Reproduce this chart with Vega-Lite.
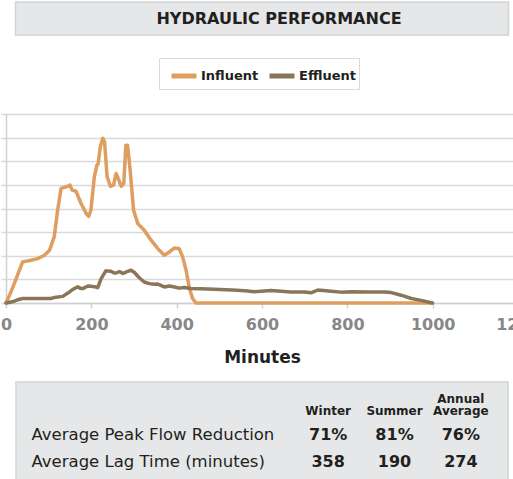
{
  "$schema": "https://vega.github.io/schema/vega-lite/v6.json",
  "padding": {"left": 0, "top": 1, "right": 0, "bottom": 0},
  "background": "white",
  "spacing": 79,
  "bounds": "flush",
  "center": true,
  "config": {
    "font": "DejaVu Sans",
    "view": {"stroke": null}
  },
  "vconcat": [
    {
      "width": 493,
      "height": 33,
      "view": {"fill": "#e6e7e8", "stroke": "#d2d3d5", "strokeWidth": 1.5},
      "data": {"values": [{"title": "HYDRAULIC PERFORMANCE"}]},
      "mark": {"type": "text", "font": "DejaVu Sans", "fontWeight": "bold", "fontSize": 16, "color": "#231f20", "dx": 17, "baseline": "middle", "align": "center"},
      "encoding": {"text": {"field": "title", "type": "nominal"}}
    },
    {
      "width": 512,
      "height": 189,
      "data": {"values": [
        {"series": "Influent", "minute": 0, "flow": 0},
        {"series": "Influent", "minute": 10, "flow": 0.4},
        {"series": "Influent", "minute": 20, "flow": 0.85},
        {"series": "Influent", "minute": 39, "flow": 1.74},
        {"series": "Influent", "minute": 59, "flow": 1.81},
        {"series": "Influent", "minute": 74, "flow": 1.88},
        {"series": "Influent", "minute": 90, "flow": 2.02},
        {"series": "Influent", "minute": 102, "flow": 2.23},
        {"series": "Influent", "minute": 113, "flow": 2.8},
        {"series": "Influent", "minute": 121, "flow": 3.93},
        {"series": "Influent", "minute": 129, "flow": 4.85},
        {"series": "Influent", "minute": 145, "flow": 4.94},
        {"series": "Influent", "minute": 150, "flow": 4.99},
        {"series": "Influent", "minute": 155, "flow": 4.78},
        {"series": "Influent", "minute": 164, "flow": 4.73},
        {"series": "Influent", "minute": 176, "flow": 4.21},
        {"series": "Influent", "minute": 188, "flow": 3.79},
        {"series": "Influent", "minute": 194, "flow": 3.67},
        {"series": "Influent", "minute": 199, "flow": 3.93},
        {"series": "Influent", "minute": 207, "flow": 5.34},
        {"series": "Influent", "minute": 213, "flow": 5.83},
        {"series": "Influent", "minute": 216, "flow": 5.9},
        {"series": "Influent", "minute": 221, "flow": 6.61},
        {"series": "Influent", "minute": 227, "flow": 6.97},
        {"series": "Influent", "minute": 231, "flow": 6.82},
        {"series": "Influent", "minute": 237, "flow": 5.34},
        {"series": "Influent", "minute": 245, "flow": 4.94},
        {"series": "Influent", "minute": 252, "flow": 4.99},
        {"series": "Influent", "minute": 258, "flow": 5.48},
        {"series": "Influent", "minute": 263, "flow": 5.27},
        {"series": "Influent", "minute": 270, "flow": 4.94},
        {"series": "Influent", "minute": 276, "flow": 5.06},
        {"series": "Influent", "minute": 281, "flow": 6.68},
        {"series": "Influent", "minute": 285, "flow": 6.68},
        {"series": "Influent", "minute": 291, "flow": 5.62},
        {"series": "Influent", "minute": 299, "flow": 3.93},
        {"series": "Influent", "minute": 309, "flow": 3.36},
        {"series": "Influent", "minute": 324, "flow": 3.08},
        {"series": "Influent", "minute": 340, "flow": 2.66},
        {"series": "Influent", "minute": 356, "flow": 2.3},
        {"series": "Influent", "minute": 371, "flow": 2.02},
        {"series": "Influent", "minute": 383, "flow": 2.16},
        {"series": "Influent", "minute": 395, "flow": 2.33},
        {"series": "Influent", "minute": 406, "flow": 2.3},
        {"series": "Influent", "minute": 414, "flow": 1.95},
        {"series": "Influent", "minute": 422, "flow": 1.39},
        {"series": "Influent", "minute": 430, "flow": 0.61},
        {"series": "Influent", "minute": 437, "flow": 0.2},
        {"series": "Influent", "minute": 445, "flow": 0},
        {"series": "Influent", "minute": 1000, "flow": 0},
        {"series": "Effluent", "minute": 0, "flow": 0},
        {"series": "Effluent", "minute": 15, "flow": 0.05},
        {"series": "Effluent", "minute": 30, "flow": 0.15},
        {"series": "Effluent", "minute": 39, "flow": 0.19},
        {"series": "Effluent", "minute": 105, "flow": 0.19},
        {"series": "Effluent", "minute": 113, "flow": 0.23},
        {"series": "Effluent", "minute": 133, "flow": 0.28},
        {"series": "Effluent", "minute": 145, "flow": 0.42},
        {"series": "Effluent", "minute": 156, "flow": 0.57},
        {"series": "Effluent", "minute": 168, "flow": 0.68},
        {"series": "Effluent", "minute": 176, "flow": 0.61},
        {"series": "Effluent", "minute": 180, "flow": 0.61},
        {"series": "Effluent", "minute": 192, "flow": 0.72},
        {"series": "Effluent", "minute": 199, "flow": 0.71},
        {"series": "Effluent", "minute": 211, "flow": 0.68},
        {"series": "Effluent", "minute": 215, "flow": 0.65},
        {"series": "Effluent", "minute": 223, "flow": 1.03},
        {"series": "Effluent", "minute": 234, "flow": 1.36},
        {"series": "Effluent", "minute": 246, "flow": 1.34},
        {"series": "Effluent", "minute": 254, "flow": 1.27},
        {"series": "Effluent", "minute": 258, "flow": 1.27},
        {"series": "Effluent", "minute": 266, "flow": 1.33},
        {"series": "Effluent", "minute": 274, "flow": 1.25},
        {"series": "Effluent", "minute": 281, "flow": 1.31},
        {"series": "Effluent", "minute": 293, "flow": 1.39},
        {"series": "Effluent", "minute": 301, "flow": 1.29},
        {"series": "Effluent", "minute": 313, "flow": 1.06},
        {"series": "Effluent", "minute": 324, "flow": 0.89},
        {"series": "Effluent", "minute": 336, "flow": 0.82},
        {"series": "Effluent", "minute": 348, "flow": 0.79},
        {"series": "Effluent", "minute": 356, "flow": 0.8},
        {"series": "Effluent", "minute": 371, "flow": 0.68},
        {"series": "Effluent", "minute": 383, "flow": 0.72},
        {"series": "Effluent", "minute": 395, "flow": 0.68},
        {"series": "Effluent", "minute": 406, "flow": 0.63},
        {"series": "Effluent", "minute": 418, "flow": 0.66},
        {"series": "Effluent", "minute": 433, "flow": 0.61},
        {"series": "Effluent", "minute": 457, "flow": 0.6},
        {"series": "Effluent", "minute": 488, "flow": 0.58},
        {"series": "Effluent", "minute": 530, "flow": 0.55},
        {"series": "Effluent", "minute": 560, "flow": 0.52},
        {"series": "Effluent", "minute": 582, "flow": 0.48},
        {"series": "Effluent", "minute": 598, "flow": 0.5},
        {"series": "Effluent", "minute": 621, "flow": 0.53},
        {"series": "Effluent", "minute": 668, "flow": 0.47},
        {"series": "Effluent", "minute": 700, "flow": 0.47},
        {"series": "Effluent", "minute": 715, "flow": 0.43},
        {"series": "Effluent", "minute": 731, "flow": 0.55},
        {"series": "Effluent", "minute": 762, "flow": 0.5},
        {"series": "Effluent", "minute": 785, "flow": 0.46},
        {"series": "Effluent", "minute": 809, "flow": 0.48},
        {"series": "Effluent", "minute": 850, "flow": 0.47},
        {"series": "Effluent", "minute": 887, "flow": 0.47},
        {"series": "Effluent", "minute": 903, "flow": 0.44},
        {"series": "Effluent", "minute": 926, "flow": 0.33},
        {"series": "Effluent", "minute": 950, "flow": 0.19},
        {"series": "Effluent", "minute": 973, "flow": 0.11},
        {"series": "Effluent", "minute": 999, "flow": 0}
      ]},
      "mark": {"type": "line", "strokeWidth": 3.5, "strokeJoin": "round", "strokeCap": "round"},
      "encoding": {
        "x": {
          "field": "minute", "type": "quantitative",
          "scale": {"domain": [0, 1200], "nice": false},
          "axis": {
            "values": [0, 200, 400, 600, 800, 1000, 1200],
            "format": "d",
            "grid": false,
            "title": "Minutes",
            "domainColor": "#d0d0d0", "domainWidth": 1.5,
            "tickColor": "#d0d0d0", "tickSize": 5, "tickWidth": 1.5,
            "labelFont": "DejaVu Sans", "labelFontWeight": "bold", "labelFontSize": 16,
            "labelColor": "#878787", "labelPadding": 8,
            "labelFlush": false, "labelOverlap": false,
            "titleFont": "DejaVu Sans", "titleFontSize": 17, "titleFontWeight": "bold",
            "titleColor": "#231f20", "titlePadding": 17
          }
        },
        "y": {
          "field": "flow", "type": "quantitative",
          "scale": {"domain": [0, 8], "nice": false},
          "axis": {
            "values": [0, 1, 2, 3, 4, 5, 6, 7, 8],
            "labels": false, "title": null,
            "grid": true, "gridColor": "#d9d9d9", "gridWidth": 1.5,
            "domainColor": "#d0d0d0", "domainWidth": 1.5,
            "tickColor": "#d9d9d9", "tickSize": 5, "tickWidth": 1.5
          }
        },
        "color": {
          "field": "series", "type": "nominal",
          "scale": {"domain": ["Influent", "Effluent"], "range": ["#dd9e5f", "#8b7558"]},
          "legend": {
            "title": null,
            "orient": "none", "legendX": 153, "legendY": 56,
            "direction": "horizontal",
            "symbolType": "stroke", "symbolStrokeWidth": 5, "symbolSize": 625,
            "symbolOffset": 7,
            "labelFont": "DejaVu Sans", "labelFontWeight": "bold", "labelFontSize": 13,
            "labelColor": "#231f20", "labelOffset": 2,
            "strokeColor": "#d9d9d9", "fillColor": "white",
            "padding": 3, "columnPadding": 0
          }
        }
      }
    },
    {
      "width": 492,
      "height": 100,
      "view": {"fill": "#e6e7e8", "stroke": "#d2d3d5", "strokeWidth": 1.5},
      "data": {"values": [
        {"metric": "Average Peak Flow Reduction", "season": "Winter", "value": "71%"},
        {"metric": "Average Peak Flow Reduction", "season": "Summer", "value": "81%"},
        {"metric": "Average Peak Flow Reduction", "season": "Annual Average", "value": "76%"},
        {"metric": "Average Lag Time (minutes)", "season": "Winter", "value": "358"},
        {"metric": "Average Lag Time (minutes)", "season": "Summer", "value": "190"},
        {"metric": "Average Lag Time (minutes)", "season": "Annual Average", "value": "274"}
      ]},
      "mark": {"type": "text", "font": "DejaVu Sans", "fontWeight": "bold", "fontSize": 16, "color": "#231f20"},
      "encoding": {
        "x": {
          "field": "season", "type": "nominal", "sort": null,
          "scale": {"type": "band", "domain": ["Winter", "Summer", "Annual Average"], "range": [279, 478], "paddingInner": 0, "paddingOuter": 0},
          "axis": {
            "orient": "top", "title": null, "domain": false, "ticks": false,
            "labelAngle": 0, "labelPadding": -23,
            "labelFont": "DejaVu Sans", "labelFontWeight": "bold", "labelFontSize": 12,
            "labelColor": "#231f20",
            "labelExpr": "length(split(datum.label, ' ')) > 1 ? split(datum.label, ' ') : ['', datum.label]",
            "labelLineHeight": 12
          }
        },
        "y": {
          "field": "metric", "type": "nominal", "sort": null,
          "scale": {"type": "band", "domain": ["Average Peak Flow Reduction", "Average Lag Time (minutes)"], "paddingInner": 0, "paddingOuter": 0.852, "align": 0.859},
          "axis": {
            "title": null, "domain": false, "ticks": false,
            "labelAlign": "left", "labelPadding": -15,
            "labelFont": "DejaVu Sans", "labelFontSize": 16.5,
            "labelColor": "#231f20", "labelLimit": 0
          }
        },
        "text": {"field": "value", "type": "nominal"}
      }
    }
  ]
}
